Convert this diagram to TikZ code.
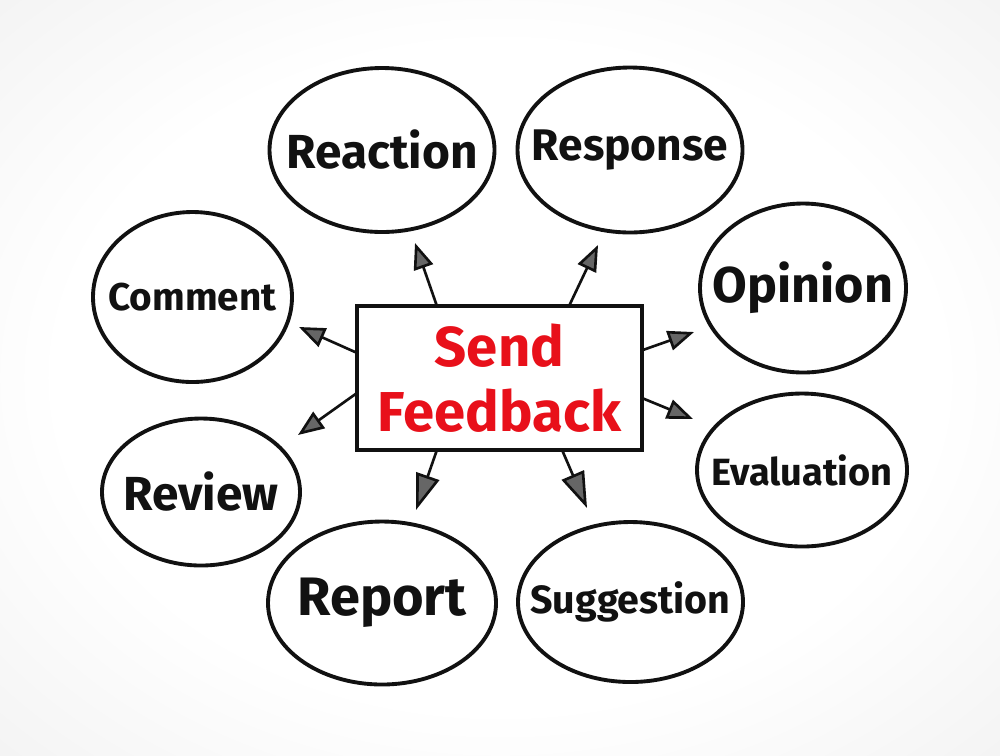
\documentclass[tikz,border=0pt]{standalone}
\usepackage{fontspec}
\setmainfont{Fira Sans}
\usetikzlibrary{arrows.meta,shapes.geometric}
\definecolor{inkred}{HTML}{E8101A}
\definecolor{inkblack}{HTML}{111111}
\newcommand{\hand}[1]{\fontsize{#1}{1.1\dimexpr#1pt\relax}\selectfont\bfseries}
\pgfdeclareradialshading{paper}{\pgfpoint{0cm}{0cm}}{color(0bp)=(white); color(22bp)=(white); color(71bp)=(black!16)}

\begin{document}
\begin{tikzpicture}[
        bubble/.style={ellipse,draw=inkblack,line width=1.1pt,inner sep=0pt,
                       label={[text=inkblack,font=\hand{#1}]center:\bubbletext}},
        hub/.style={rectangle,draw=inkblack,line width=1.1pt,fill=white,
                    minimum width=2.85cm,minimum height=1.44cm,align=center,
                    text=inkred,outer sep=0pt,font=\hand{16}},
        arr/.style={-{Triangle[length=2.6mm,width=2mm,fill=black!60]},line width=.75pt,inkblack},
        bigarr/.style={-{Triangle[length=3.6mm,width=2.4mm,fill=black!60]},line width=.75pt,inkblack}
      ]
        % background
        \shade[shading=paper] (0,0) rectangle (10,7.55);
        \useasboundingbox (0,0) rectangle (10,7.55);

        % centre
        \node[hub] (send) at (4.995,3.77) {Send\\[1pt]Feedback};

        % bubbles
        \def\bubbletext{Reaction}
        \node[bubble=13.6,minimum width=2.25cm,minimum height=1.64cm] (reaction) at (3.82,6.05) {};
        \def\bubbletext{Response}
        \node[bubble=12.6,minimum width=2.25cm,minimum height=1.65cm] (response) at (6.30,6.05) {};
        \def\bubbletext{Comment}
        \node[bubble=11,minimum width=1.99cm,minimum height=1.70cm] (comment) at (1.925,4.58) {};
        \def\bubbletext{Opinion}
        \node[bubble=14.3,minimum width=2.06cm,minimum height=1.69cm] (opinion) at (8.03,4.67) {};
        \def\bubbletext{Review}
        \node[bubble=13.6,minimum width=1.98cm,minimum height=1.47cm] (review) at (2.01,2.63) {};
        \def\bubbletext{Evaluation}
        \node[bubble=10.8,minimum width=2.10cm,minimum height=1.53cm] (evaluation) at (8.02,2.85) {};
        \def\bubbletext{Report}
        \node[bubble=15.4,minimum width=2.28cm,minimum height=1.63cm] (report) at (3.82,1.52) {};
        \def\bubbletext{Suggestion}
        \node[bubble=11.2,minimum width=2.25cm,minimum height=1.60cm] (suggestion) at (6.305,1.53) {};

        % arrow tips
        \coordinate (reaction-tip) at (4.15,5.12);
        \coordinate (response-tip) at (5.98,5.10);
        \coordinate (comment-tip) at (2.99,4.28);
        \coordinate (opinion-tip) at (6.94,4.23);
        \coordinate (review-tip) at (2.98,3.20);
        \coordinate (evaluation-tip) at (6.93,3.36);
        \coordinate (report-tip) at (4.16,2.45);
        \coordinate (suggestion-tip) at (5.87,2.47);

        \draw[arr] (send.131) -- (reaction-tip);
        \draw[arr] (send.46) -- (response-tip);
        \draw[arr] (send.170) -- (comment-tip);
        \draw[arr] (send.11) -- (opinion-tip);
        \draw[arr] (send.186) -- (review-tip);
        \draw[arr] (send.-8) -- (evaluation-tip);
        \draw[bigarr] (send.229) -- (report-tip);
        \draw[bigarr] (send.-49) -- (suggestion-tip);
      \end{tikzpicture}
\end{document}
